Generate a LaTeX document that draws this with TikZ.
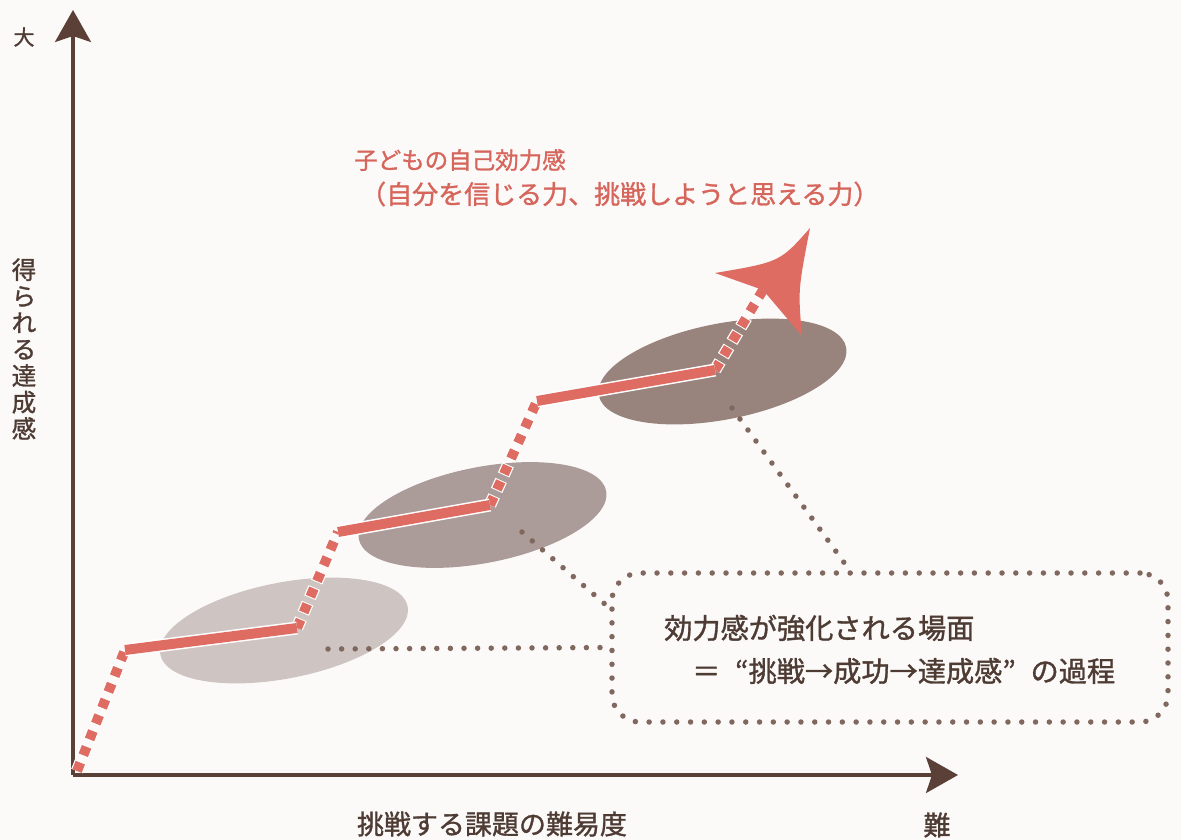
\documentclass[tikz,border=0pt]{standalone}
\usepackage{fontspec}
\newfontfamily\jp{Noto Sans CJK JP}[FakeBold=1.2]
\usetikzlibrary{arrows.meta,shapes.geometric,calc}
\definecolor{bgc}{RGB}{252,250,249}
\definecolor{axisc}{RGB}{90,64,54}
\definecolor{txtc}{RGB}{78,60,52}
\definecolor{redc}{RGB}{222,108,98}
\definecolor{redtxt}{RGB}{214,102,92}
\definecolor{dotc}{RGB}{128,104,94}
\definecolor{eonec}{RGB}{206,197,195}
\definecolor{etwoc}{RGB}{171,156,153}
\definecolor{ethreec}{RGB}{152,131,125}
\newcommand{\fwl}[1]{\makebox[1em][r]{#1}}
\newcommand{\fwr}[1]{\makebox[1em][l]{#1}}
\newcommand{\fwc}[1]{\makebox[1em][c]{#1}}
\tikzset{
  axisline/.style={draw=axisc, line width=3.2pt, -{Stealth[length=32pt,width=36pt,inset=6pt]}},
  blob/.style={ellipse, draw=none, minimum width=252pt, minimum height=96pt, rotate=11, inner sep=0pt},
  dotline/.style={draw=dotc, line width=5.5pt, line cap=round, dash pattern=on 0pt off 13.6pt},
  redsolid/.style={draw=redc, line width=10pt},
  redunder/.style={draw=white, line width=13pt},
  reddash/.style={draw=redc, line width=10pt, dash pattern=on 9pt off 8pt},
  redunderdash/.style={draw=white, line width=12.5pt, dash pattern=on 11pt off 6pt, dash phase=1pt},
  lbl/.style={font=\jp\fontsize{24}{26}\selectfont, text=txtc, inner sep=0pt},
}
\begin{document}
\begin{tikzpicture}[x=1pt,y=-1pt]
\fill[bgc] (0,0) rectangle (1181,840);
\useasboundingbox (0,0) rectangle (1181,840);

% ellipses
\node[blob, fill=eonec] (e1) at (284,630.5) {};
\node[blob, fill=etwoc] (e2) at (482.5,515) {};
\node[blob, fill=ethreec] (e3) at (722.5,371.5) {};

% axes
\coordinate (O) at (73,775);
\coordinate (Ytip) at (73,10);
\coordinate (Xtip) at (958,775);
\draw[axisline] (O) -- (Ytip);
\draw[axisline] (O) -- (Xtip);

% axis labels
\node[lbl, font=\jp\fontsize{21}{24}\selectfont] (big) at (24,37) {大};
\node[lbl, align=center, font=\jp\fontsize{24.5}{26.5}\selectfont] (ylab) at (24,349) {得\\ら\\れ\\る\\達\\成\\感};
\node[lbl, font=\jp\fontsize{27}{29}\selectfont] (xlab) at (492,824) {挑戦する課題の難易度};
\node[lbl, font=\jp\fontsize{27}{29}\selectfont] (hard) at (937,825) {難};

% dotted box and connectors
\node[draw=dotc, line width=5.5pt, line cap=round, dash pattern=on 0pt off 13.8pt,
      rounded corners=28pt, minimum width=556pt, minimum height=149pt] (box) at (890,647.5) {};
\node[lbl, font=\jp\fontsize{28.2}{30}\selectfont, anchor=west] (t1) at (664,628) {効力感が強化される場面};
\node[lbl, font=\jp\fontsize{28.2}{30}\selectfont, anchor=west] (t2) at (692,671) {＝\fwl{“}挑戦\fwc{→}成功\fwc{→}達成感\fwr{”}の過程};

\coordinate (d1) at (328,649);
\coordinate (d2) at (522,532);
\coordinate (d2e) at (614,612);
\coordinate (d3) at (732,408);
\coordinate (d3e) at (848,568);
\draw[dotline] (d1) -- (box.west);
\draw[dotline] (d2) -- (d2e);
\draw[dotline] (d3) -- (d3e);

% red path
\coordinate (p0) at (77,771);
\coordinate (p1) at (125,650);
\coordinate (p2) at (297,628);
\coordinate (p3) at (338,532);
\coordinate (p4) at (490,505);
\coordinate (p5) at (537,401);
\coordinate (p6) at (715,370);
\coordinate (n) at (763,290);
\coordinate (T) at (810,228);
\coordinate (L) at (715,273);
\coordinate (R) at (802,336);

\foreach \a/\b in {p0/p1,p2/p3,p4/p5,p6/n}{
  \draw[redunderdash] (\a) -- (\b);
  \draw[reddash] (\a) -- (\b);
}
\foreach \a/\b in {p1/p2,p3/p4,p5/p6}{
  \draw[redunder] (\a) -- (\b);
  \draw[redsolid] (\a) -- (\b);
}
\fill[redc] (T) .. controls (780,262) .. (L) -- (n) -- (R) .. controls (798,290) .. (T) -- cycle;

% title
\node[lbl, font=\jp\fontsize{23.5}{26}\selectfont, text=redtxt, anchor=west] (title1) at (354,160) {子どもの自己効力感};
\node[lbl, font=\jp\fontsize{26}{28}\selectfont, text=redtxt, anchor=west] (title2) at (360,194) {（自分を信じる力、挑戦しようと思える力）};
\end{tikzpicture}
\end{document}
